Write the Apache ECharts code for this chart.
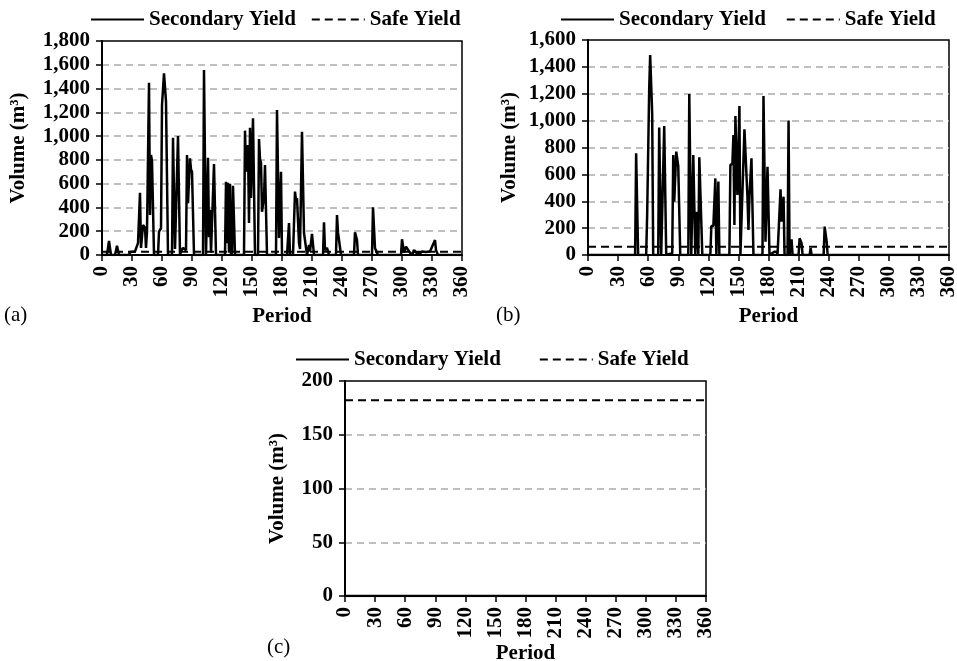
<!DOCTYPE html>
<html>
<head>
<meta charset="utf-8">
<script src="https://cdn.jsdelivr.net/npm/echarts@6/dist/echarts.min.js"></script>
<style>
html,body{margin:0;padding:0;background:#fff;}
#chart{width:957px;height:661px;}
</style>
</head>
<body>
<div id="chart"></div>
<script>
// ---- Data ----
var periodTicks = [0,30,60,90,120,150,180,210,240,270,300,330,360];

// Panel (a): secondary yield
var aPeriods = [0,5,7,9,13,15,17,27,28,30,33,35,36,38,39,41,43,44,45,47,48,49,50,52,56,57,59,60,62,64,66,70,71,73,76,78,79,81,83,84,85,86,88,89,90,92,101,102,104,106,107,108,109,112,114,123,124,125,126,127,128,129,130,131,133,142,143,144,146,147,148,149,151,153,156,157,158,159,160,162,163,165,174,175,177,179,180,185,187,188,191,193,194,195,197,198,200,202,204,205,207,208,210,211,212,221,222,223,225,226,227,234,235,236,237,238,239,252,253,255,256,270,271,273,275,276,299,300,302,304,306,308,310,312,314,316,318,320,322,324,326,328,330,333,334,336,360];
var aValues  = [0,0,118,0,0,78,0,0,25,28,30,40,100,524,60,252,230,60,200,1449,336,841,790,0,0,196,225,1262,1528,1290,0,0,987,50,1000,0,30,60,70,40,841,435,813,720,700,0,0,1556,0,818,150,380,20,765,0,0,617,100,608,20,600,0,20,583,0,0,1046,700,925,269,1071,480,1150,0,0,976,807,775,364,480,757,0,0,1220,143,700,0,0,269,0,0,533,460,477,100,50,1037,185,180,0,84,30,177,182,0,0,275,40,60,30,0,0,336,190,126,126,0,0,190,126,0,0,401,56,20,0,0,132,20,70,56,20,0,42,20,36,10,30,20,25,10,30,20,126,40,0,0];
var aSafe = 28;

// Panel (b): secondary yield
var bPeriods = [0,47,48,50,58,59,61,62,64,65,70,71,73,74,76,78,82,84,85,86,88,90,92,100,101,103,105,107,108,110,111,114,122,123,125,127,128,130,131,141,142,144,145,146,147,149,151,152,156,157,159,160,161,163,165,174,175,177,179,181,186,188,189,192,193,195,196,199,200,201,203,204,210,211,213,214,221,222,223,235,236,238,239,360];
var bValues  = [0,0,757,0,0,300,1228,1488,1054,0,0,948,0,0,960,0,10,12,744,397,769,662,0,0,1198,0,744,0,322,0,727,0,0,216,216,570,0,546,0,0,670,680,893,223,1034,446,1109,0,935,769,434,186,434,719,0,0,1183,99,657,0,25,25,0,489,248,434,0,0,1000,0,117,0,0,124,87,0,0,50,0,0,211,99,0,0];
var bSafe = 62;

// Panel (c)
var cPeriods = [0,360];
var cValues  = [0,0];
var cSafe = 182;

var yMax = [1800,1600,200];
var yInterval = [200,200,50];

function pairs(xs, ys){ return xs.map(function(x,i){return [x, ys[i]];}); }
function flat(v){ return [[0,v],[360,v]]; }

var FONT = 'Liberation Serif';
var txt = {fontFamily:FONT, fontWeight:'bold', fontSize:21, color:'#000'};

var grids = [
  {left:102, right:495, top:41, height:214},
  {left:588, right:8, top:40, height:215},
  {left:345, right:251, top:381, height:215}
];
var yNameGap = [73, 68, 57];
var xNameGap = [51, 51, 47];

var xAxes = [], yAxes = [], series = [];
grids.forEach(function(g,i){
  g.show = true; g.borderColor = '#000'; g.borderWidth = 1.5; g.containLabel = false;
  g.outerBoundsMode = 'none';
  xAxes.push({
    gridIndex:i, type:'value', min:0, max:360, interval:30,
    name:'Period', nameLocation:'middle', nameGap:xNameGap[i],
    nameTextStyle:txt,
    axisLine:{show:true, onZero:false, lineStyle:{color:'#000', width:2}},
    axisTick:{show:true, length:6, lineStyle:{color:'#000', width:1.5}},
    axisLabel:{rotate:90, margin:11, fontFamily:FONT, fontWeight:'bold', fontSize:21, color:'#000'},
    splitLine:{show:false}
  });
  yAxes.push({
    gridIndex:i, type:'value', min:0, max:yMax[i], interval:yInterval[i],
    name:'Volume (m³)', nameLocation:'middle', nameGap:yNameGap[i],
    nameTextStyle:txt,
    axisLine:{show:true, lineStyle:{color:'#000', width:2}},
    axisTick:{show:true, length:6, lineStyle:{color:'#000', width:1.5}},
    axisLabel:{margin:12, fontFamily:FONT, fontWeight:'bold', fontSize:21, color:'#000',
      formatter:function(v){return v.toLocaleString('en-US');}},
    splitLine:{show:true, showMinLine:false, showMaxLine:false, lineStyle:{color:'#aaa', width:1.5, type:[7,5]}}
  });
});

var secData = [pairs(aPeriods,aValues), pairs(bPeriods,bValues), pairs(cPeriods,cValues)];
var safeVals = [aSafe, bSafe, cSafe];
for (var i=0;i<3;i++){
  series.push({
    name:'Secondary Yield', type:'line', xAxisIndex:i, yAxisIndex:i,
    data:secData[i], symbol:'none', animation:false,
    lineStyle:{color:'#000', width:2.5}, itemStyle:{color:'#000'}, z:3
  });
  series.push({
    name:'Safe Yield', type:'line', xAxisIndex:i, yAxisIndex:i,
    data:flat(safeVals[i]), symbol:'none', animation:false,
    lineStyle:{color:'#000', width:2, type:[8,5]}, itemStyle:{color:'#000'}, z:4
  });
}

function legend(left, top, gap){
  return {
    left:left, top:top, itemWidth:53, itemHeight:14, itemGap:gap,
    data:['Secondary Yield','Safe Yield'],
    itemStyle:{opacity:0},
    lineStyle:{width:2},
    textStyle:{fontFamily:FONT, fontWeight:'bold', fontSize:21, color:'#000'},
    selectedMode:false
  };
}

var option = {
  backgroundColor:'#fff',
  animation:false,
  grid:grids,
  xAxis:xAxes,
  yAxis:yAxes,
  legend:[legend(85,4,15), legend(555,4,20), legend(290,344,38)],
  series:series,
  graphic:[
    {type:'text', left:4, top:305, style:{text:'(a)', font:'21px "Liberation Serif"', fill:'#000'}},
    {type:'text', left:496, top:305, style:{text:'(b)', font:'21px "Liberation Serif"', fill:'#000'}},
    {type:'text', left:267, top:637, style:{text:'(c)', font:'21px "Liberation Serif"', fill:'#000'}}
  ]
};

var chart = echarts.init(document.getElementById('chart'), null, {renderer:'canvas'});
chart.setOption(option);
</script>
</body>
</html>
